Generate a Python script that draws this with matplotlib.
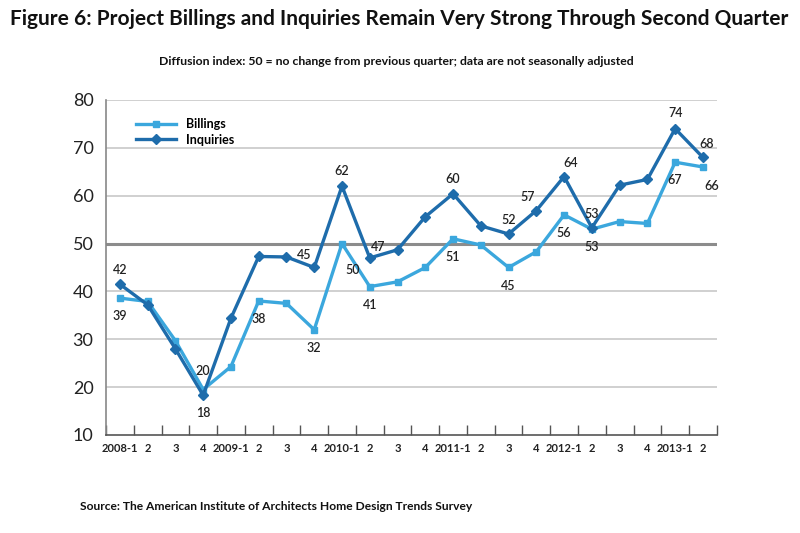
import matplotlib.pyplot as plt
import numpy as np

plt.rcParams['font.family'] = ['Lato', 'DejaVu Sans']

# data
quarters = ['2008-1', '2', '3', '4', '2009-1', '2', '3', '4', '2010-1', '2', '3', '4',
            '2011-1', '2', '3', '4', '2012-1', '2', '3', '4', '2013-1', '2']
billings = [38.6, 37.9, 29.7, 19.5, 24.3, 38, 37.5, 32, 50, 41, 42, 45,
            51, 49.7, 45, 48.3, 56, 53, 54.6, 54.2, 67, 66]
inquiries = [41.5, 37.2, 28, 18.3, 34.4, 47.3, 47.2, 45, 62, 47, 48.7, 55.6,
             60.4, 53.7, 52, 56.9, 64, 53.3, 62.2, 63.4, 74, 68]
bill_labels = {0: '39', 3: '20', 5: '38', 7: '32', 8: '50', 9: '41', 12: '51',
               14: '45', 16: '56', 17: '53', 20: '67', 21: '66'}
inq_labels = {0: '42', 3: '18', 7: '45', 8: '62', 9: '47', 12: '60', 14: '52',
              15: '57', 16: '64', 17: '53', 20: '74', 21: '68'}

c_bill = '#3ba7dd'
c_inq = '#1e6cab'

fig = plt.figure(figsize=(8, 5.33), dpi=100)
ax = fig.add_axes([0.1325, 0.1839, 0.7635, 0.6285])

x = np.arange(len(quarters))
ax.plot(x, billings, color=c_bill, lw=2.4, marker='s', ms=5, label='Billings')
ax.plot(x, inquiries, color=c_inq, lw=2.4, marker='D', ms=5, label='Inquiries')

# labels: (dx, dy) offsets in points
bill_off = {0: (0, -13), 3: (0, 13), 5: (0, -13), 7: (0, -13), 8: (8, -19),
            9: (0, -13), 12: (0, -13), 14: (0, -13), 16: (0, -13), 17: (0, -13),
            20: (0, -13), 21: (6, -14)}
inq_off = {0: (0, 10), 3: (0, -13), 7: (-7, 9), 8: (0, 11), 9: (6, 8), 12: (0, 11),
           14: (0, 10), 15: (-6, 10), 16: (5, 10), 17: (0, 10), 20: (0, 11), 21: (3, 10)}
for i, t in bill_labels.items():
    ax.annotate(t, (x[i], billings[i]), xytext=bill_off[i], textcoords='offset points',
                ha='center', va='center', fontsize=9, fontweight='semibold', color='#222222')
for i, t in inq_labels.items():
    ax.annotate(t, (x[i], inquiries[i]), xytext=inq_off[i], textcoords='offset points',
                ha='center', va='center', fontsize=9, fontweight='semibold', color='#222222')

ax.set_ylim(10, 80)
ax.set_xlim(-0.5, len(quarters) - 0.5)
ax.set_yticks(range(10, 81, 10))
ax.tick_params(axis='y', length=0, labelsize=13, pad=9, colors='#222222')
for v in range(20, 81, 10):
    if v == 50:
        ax.axhline(v, color='#8c8c8c', lw=2.2, zorder=1)
    else:
        ax.axhline(v, color='#c8c8c8', lw=1.2, zorder=1)

ax.set_xticks(x)
ax.set_xticklabels(quarters, fontsize=8, fontweight='bold', color='#222222')
ax.set_xticks(np.arange(-0.5, len(quarters)), minor=True)
ax.tick_params(axis='x', which='major', length=0, pad=6)
ax.tick_params(axis='x', which='minor', direction='in', length=7, color='#555555', width=1)

for s in ['top', 'right']:
    ax.spines[s].set_visible(False)
ax.spines['left'].set_color('#888888')
ax.spines['bottom'].set_color('#555555')
ax.spines['left'].set_linewidth(1.2)
ax.spines['bottom'].set_linewidth(1.2)

ax.legend(loc='upper left', bbox_to_anchor=(0.03, 0.98), frameon=False,
          prop={'weight': 'bold', 'size': 9}, handlelength=3.2, labelspacing=0.3)

fig.text(0.013, 0.965, 'Figure 6: Project Billings and Inquiries Remain Very Strong Through Second Quarter',
         fontsize=15, fontweight='bold', va='center', color='#111111')
fig.text(0.496, 0.884, 'Diffusion index: 50 = no change from previous quarter; data are not seasonally adjusted',
         fontsize=8.8, fontweight='bold', ha='center', va='center', color='#111111')
fig.text(0.1, 0.05, 'Source: The American Institute of Architects Home Design Trends Survey',
         fontsize=8.65, fontweight='bold', va='center', color='#111111')

fig.savefig('out.png', dpi=100)
